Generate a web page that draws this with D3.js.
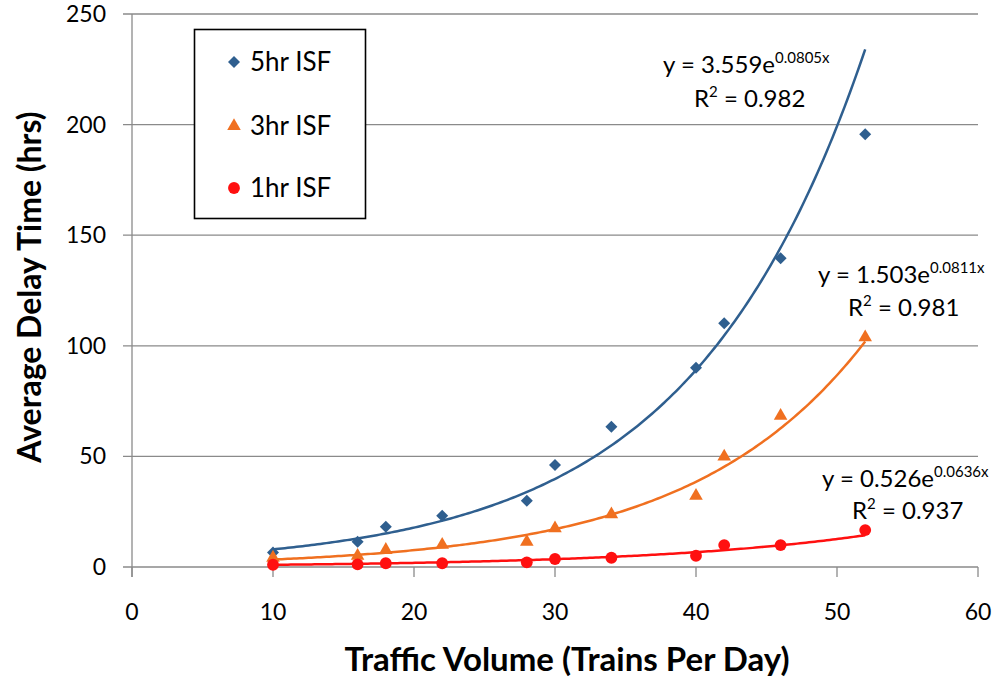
<!DOCTYPE html>
<html>
<head>
<meta charset="utf-8">
<script src="https://cdn.jsdelivr.net/npm/d3@7"></script>
<style>
  html, body { margin: 0; padding: 0; background: #fff; }
  svg { display: block; }
  text { font-family: Lato, "Open Sans", sans-serif; fill: #000; }
</style>
</head>
<body>
<svg id="chart" width="995" height="678"></svg>
<script>
// ---- data ----
const trainsPerDay = [10, 16, 18, 22, 28, 30, 34, 40, 42, 46, 52];
const delay5hr = [6.5, 11.4, 18.2, 23.2, 30.0, 46.1, 63.4, 90.1, 110.2, 139.6, 195.6];
const delay3hr = [4.2, 5.0, 7.7, 10.0, 11.4, 17.5, 23.8, 32.2, 49.9, 68.3, 103.8];
const delay1hr = [1.0, 1.2, 1.7, 1.7, 2.1, 3.6, 4.2, 5.1, 9.9, 9.9, 16.7];
const seriesNames = ["5hr ISF", "3hr ISF", "1hr ISF"];
// exponential trendline coefficients (as labelled on the chart): y = a * e^(b x)
const trendA = [3.559, 1.503, 0.526];
const trendB = [0.0805, 0.0811, 0.0636];
const trendLabelA = ["3.559", "1.503", "0.526"];
const trendLabelB = ["0.0805x", "0.0811x", "0.0636x"];
const r2Labels = ["0.982", "0.981", "0.937"];
const xTicks = [0, 10, 20, 30, 40, 50, 60];
const yTicks = [0, 50, 100, 150, 200, 250];

// ---- layout ----
const colors = ["#2F5F8F", "#F07020", "#FF1010"];
const svg = d3.select("#chart");
const x = d3.scaleLinear().domain([0, 60]).range([132, 978]);
const y = d3.scaleLinear().domain([0, 250]).range([567, 14]);
const gridColor = "#8a8a8a";

// gridlines
svg.append("g").selectAll("line").data(yTicks).join("line")
  .attr("x1", 123).attr("x2", x(60))
  .attr("y1", d => y(d)).attr("y2", d => y(d))
  .attr("stroke", gridColor).attr("stroke-width", 1.3);

// y axis line
svg.append("line").attr("x1", x(0)).attr("x2", x(0))
  .attr("y1", y(250)).attr("y2", y(0) + 10)
  .attr("stroke", gridColor).attr("stroke-width", 1.3);

// x ticks
svg.append("g").selectAll("line").data(xTicks).join("line")
  .attr("x1", d => x(d)).attr("x2", d => x(d))
  .attr("y1", y(0)).attr("y2", y(0) + 10)
  .attr("stroke", gridColor).attr("stroke-width", 1.3);

// tick labels
svg.append("g").selectAll("text").data(yTicks).join("text")
  .attr("x", 106).attr("y", d => y(d) + 8)
  .attr("text-anchor", "end").attr("font-size", 23)
  .text(d => d);
svg.append("g").selectAll("text").data(xTicks).join("text")
  .attr("x", d => x(d)).attr("y", 620)
  .attr("text-anchor", "middle").attr("font-size", 23)
  .text(d => d);

// axis titles
svg.append("text").attr("x", 567).attr("y", 671)
  .attr("text-anchor", "middle").attr("font-size", 33).attr("font-weight", "bold")
  .text("Traffic Volume (Trains Per Day)");
svg.append("text").attr("transform", "translate(41,287) rotate(-90)")
  .attr("text-anchor", "middle").attr("font-size", 32).attr("font-weight", "bold")
  .text("Average Delay Time (hrs)");

// trendlines
const allSeries = [delay5hr, delay3hr, delay1hr];
const xMin = d3.min(trainsPerDay), xMax = d3.max(trainsPerDay);
const line = d3.line().x(d => x(d[0])).y(d => y(d[1])).curve(d3.curveLinear);
allSeries.forEach((s, i) => {
  const pts = d3.range(0, 201).map(k => {
    const xv = xMin + (xMax - xMin) * k / 200;
    return [xv, trendA[i] * Math.exp(trendB[i] * xv)];
  });
  svg.append("path").datum(pts).attr("d", line)
    .attr("fill", "none").attr("stroke", colors[i]).attr("stroke-width", 2.5);
});

// markers
const symbolTypes = [d3.symbolDiamond, d3.symbolTriangle, d3.symbolCircle];
const symbolSizes = [70, 80, 110];
function marker(g, i, cx, cy) {
  if (i === 0) {
    const r = 6;
    const path = `M${cx},${cy - r}L${cx + r},${cy}L${cx},${cy + r}L${cx - r},${cy}Z`;
    g.append("path").attr("d", path).attr("fill", colors[i]);
  } else {
    g.append("path").attr("d", d3.symbol().type(symbolTypes[i]).size(symbolSizes[i])())
      .attr("transform", `translate(${cx},${cy})`).attr("fill", colors[i]);
  }
}
allSeries.forEach((s, i) => {
  const g = svg.append("g");
  s.forEach((v, j) => marker(g, i, x(trainsPerDay[j]), y(v)));
});

// equation labels
const eqPos = [[663, 73, 694, 107], [818, 283, 848, 316], [822, 487, 852, 519]];
eqPos.forEach((p, i) => {
  const t = svg.append("text").attr("x", p[0]).attr("y", p[1]).attr("font-size", 24);
  t.append("tspan").text(`y = ${trendLabelA[i]}e`);
  t.append("tspan").attr("dy", -10).attr("font-size", 15).text(trendLabelB[i]);
  const r = svg.append("text").attr("x", p[2]).attr("y", p[3]).attr("font-size", 24);
  r.append("tspan").text("R");
  r.append("tspan").attr("dy", -10).attr("font-size", 15).text("2");
  r.append("tspan").attr("dy", 10).text(` = ${r2Labels[i]}`);
});

// legend
const lg = svg.append("g");
lg.append("rect").attr("x", 194.5).attr("y", 29.5).attr("width", 171).attr("height", 189)
  .attr("fill", "#fff").attr("stroke", "#000").attr("stroke-width", 1.6);
const legendY = [62, 126, 188];
seriesNames.forEach((n, i) => {
  marker(lg, i, 234, legendY[i]);
  lg.append("text").attr("x", 250).attr("y", legendY[i] + 9)
    .attr("font-size", 26).text(n);
});
</script>
</body>
</html>
